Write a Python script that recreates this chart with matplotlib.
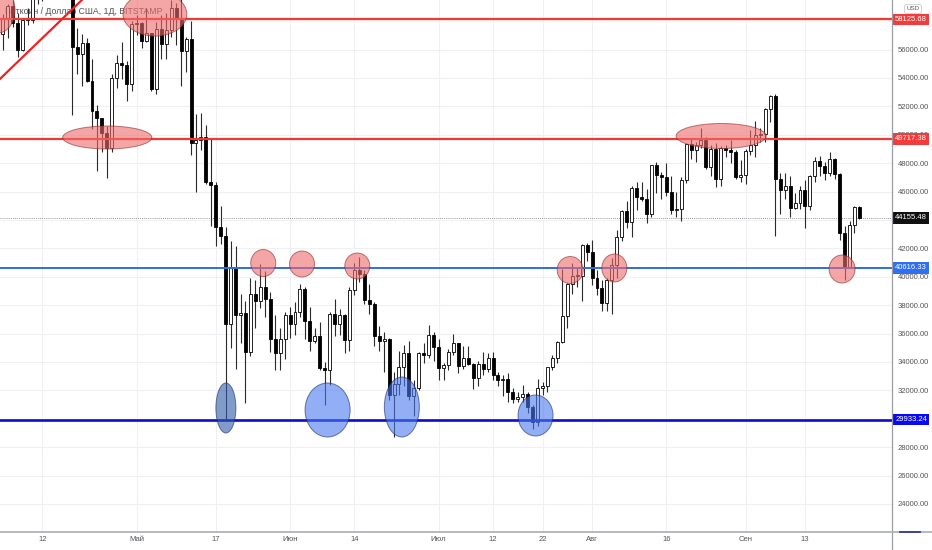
import matplotlib
matplotlib.use("Agg")
import matplotlib.pyplot as plt
import matplotlib.dates as mdates
from matplotlib.patches import Ellipse
from matplotlib.lines import Line2D
from matplotlib.transforms import blended_transform_factory
import numpy as np
import pandas as pd

plt.rcParams['font.family'] = ['Liberation Sans', 'DejaVu Sans']

# ---------------- data: BTC/USD daily candles, 2021-04-04 .. 2021-09-24 ----------------
start_date = "2021-04-04"

opens = [
    # April 4-30
    57100, 58200, 59100, 57900, 56000, 58100, 58100, 59800, 59900, 59800, 63500, 62900, 63200, 61400,
    60000, 56200, 55700, 56450, 53800, 51700, 51150, 50100, 49100, 54000, 55050, 54900, 53600,
    # May
    57800, 57850, 56600, 57200, 53200, 57450, 56400, 57350, 58950, 58250, 55900, 56750, 49400, 49650,
    49850, 46700, 46450, 43500, 42900, 36700, 40600, 37300, 37450, 34700, 38800, 38300, 39250, 38450,
    35650, 34600, 35650,
    # June
    37300, 36700, 37550, 39150, 36850, 35500, 35800, 33600, 33400, 37400, 36700, 37300, 35550, 39100,
    40450, 40200, 38350, 38100, 35800, 35500, 35600, 31700, 32450, 33650, 34650, 31600, 32200, 34650,
    34500, 35900,
    # July
    35050, 33550, 33800, 34700, 35300, 33700, 34250, 33850, 32850, 33850, 33500, 34280, 33100, 32750,
    32800, 31850, 31400, 31500, 31750, 30800, 29800, 32150, 32300, 33650, 34300, 35400, 37260, 39480,
    40050, 40080, 42230,
    # August
    41760, 39890, 39190, 38170, 39770, 40850, 42820, 44620, 43850, 46280, 45600, 45450, 44450, 47850,
    47150, 47050, 45950, 44700, 44800, 46800, 49350, 48900, 49280, 49600, 47700, 49000, 46850, 49050,
    48950, 48800, 47000,
    # September 1-24
    47150, 48850, 49280, 49950, 50050, 51790, 52700, 46860, 46100, 46400, 44870, 45200, 46100, 44950,
    47100, 48150, 47800, 47330, 48270, 47250, 43050, 40710, 43640, 44900,
]

highs = [
    58500, 59200, 59500, 58600, 58200, 58900, 61200, 60700, 61200, 63800, 64900, 63800, 63500, 62500,
    61000, 57500, 57100, 56800, 55300, 52100, 51200, 50600, 54300, 55600, 56500, 55200, 58000,
    58400, 57950, 58950, 57200, 57950, 58400, 58600, 59500, 59300, 59600, 56900, 58000, 51450, 51500,
    50700, 49800, 46650, 45000, 43500, 42500, 42200, 38800, 38300, 39900, 39800, 40900, 40400, 38900,
    37300, 36400, 37500,
    37900, 38200, 39500, 39250, 37900, 36400, 36800, 34000, 37500, 38400, 37700, 37400, 39300, 41000,
    41400, 40500, 39500, 38200, 36500, 36100, 35700, 33300, 34800, 35200, 35500, 32700, 34700, 35300,
    36600, 36100,
    35600, 33900, 34900, 35950, 35300, 35100, 35100, 33900, 34100, 34700, 34600, 34700, 33300, 33100,
    33200, 32200, 31900, 32400, 31900, 31000, 32800, 32600, 33600, 34500, 35450, 40550, 39550, 40950,
    40600, 42300, 42400,
    42600, 40500, 39800, 39900, 41300, 43300, 44700, 45300, 46400, 46700, 46700, 46200, 47900, 48100,
    47400, 48000, 47100, 46000, 47000, 49400, 49800, 49500, 50500, 49850, 49300, 49400, 49200, 49300,
    49600, 48900, 48200,
    49000, 50300, 51000, 50500, 51900, 52800, 52900, 47300, 47300, 47100, 45900, 46400, 46800, 47200,
    48400, 48500, 48100, 48800, 48350, 47300, 43600, 43900, 44950, 45000,
]

lows = [
    56000, 56800, 57600, 55500, 55900, 57700, 57900, 59200, 59400, 59800, 61300, 62100, 60000, 59600,
    51400, 54300, 53400, 53700, 50400, 47450, 48800, 46950, 48800, 53300, 53900, 52400, 53100,
    57000, 56100, 56500, 53100, 52900, 55300, 55300, 56900, 56300, 53400, 54400, 48600, 46000, 48900,
    46550, 43600, 42200, 42300, 30000, 35000, 33500, 35300, 31100, 34400, 36400, 37800, 37200, 34700,
    33400, 33400, 34200,
    35700, 35900, 37200, 35600, 34800, 35300, 33400, 31000, 32400, 35800, 35900, 34600, 34800, 38700,
    39600, 38100, 37400, 35100, 34800, 33300, 31300, 28700, 31700, 32300, 31300, 30200, 32000, 33900,
    34300, 34100,
    32700, 32700, 33400, 34500, 33200, 33500, 33800, 32100, 32300, 33100, 33300, 32700, 32300, 31600,
    31200, 31100, 31200, 31200, 30400, 29300, 29500, 31700, 31900, 33400, 33900, 35300, 36400, 38800,
    39300, 38300, 41100,
    39400, 38700, 37600, 37600, 37400, 39900, 42500, 43400, 42800, 44700, 45350, 43800, 44200, 45900,
    45500, 45700, 44400, 44200, 43900, 46600, 48300, 48100, 49100, 47600, 47100, 46300, 46400, 48400,
    48000, 46900, 46700,
    46500, 48600, 48400, 49500, 49500, 50900, 42900, 44400, 45500, 44200, 44800, 44800, 43400, 44700,
    46700, 47100, 46800, 47100, 46900, 42600, 39800, 40600, 43100, 44100,
]

closes = [
    58200, 59100, 57900, 56000, 58100, 58100, 59800, 59900, 59800, 63500, 62900, 63200, 61400, 60000,
    56200, 55700, 56450, 53800, 51700, 51150, 50100, 49100, 54000, 55050, 54900, 53600, 57800,
    57850, 56600, 57200, 53200, 57450, 56400, 57350, 58950, 58250, 55900, 56750, 49400, 49650, 49850,
    46700, 46450, 43500, 42900, 36700, 40600, 37300, 37450, 34700, 38800, 38300, 39250, 38450, 35650,
    34600, 35650, 37300,
    36700, 37550, 39150, 36850, 35500, 35800, 33600, 33400, 37400, 36700, 37300, 35550, 39100, 40450,
    40200, 38350, 38100, 35800, 35500, 35600, 31700, 32450, 33650, 34650, 31600, 32200, 34650, 34500,
    35900, 35050,
    33550, 33800, 34700, 35300, 33700, 34250, 33850, 32850, 33850, 33500, 34280, 33100, 32750, 32800,
    31850, 31400, 31500, 31750, 30800, 29800, 32150, 32300, 33650, 34300, 35400, 37260, 39480, 40050,
    40080, 42230, 41760,
    39890, 39190, 38170, 39770, 40850, 42820, 44620, 43850, 46280, 45600, 45450, 44450, 47850, 47150,
    47050, 45950, 44700, 44800, 46800, 49350, 48900, 49280, 49600, 47700, 49000, 46850, 49050, 48950,
    48800, 47000, 47150,
    48850, 49280, 49950, 50050, 51790, 52700, 46860, 46100, 46400, 44870, 45200, 46100, 44950, 47100,
    48150, 47800, 47330, 48270, 47250, 43050, 40710, 43640, 44900, 44155.48,
]

# horizontal levels and price labels
level_values = [58125.68, 49717.38, 40616.33, 29933.24]
level_colors = ['#ee3b32', '#ee3b32', '#2f6ee6', '#0c0cd0']
level_widths = [1.6, 1.6, 1.4, 1.9]
level_label_colors = ['#f23c3c', '#f23c3c', '#2f6ff2', '#0a0af2']
last_price = 44155.48

# y axis ticks (labels hidden behind price labels are left blank)
price_ticks = list(range(24000, 58001, 2000))
hidden_price_ticks = [58000, 44000, 30000]

# x axis ticks
date_tick_dates = ['2021-04-12', '2021-05-01', '2021-05-17', '2021-06-01', '2021-06-14', '2021-07-01',
                   '2021-07-12', '2021-07-22', '2021-08-01', '2021-08-16', '2021-09-01', '2021-09-13']
date_tick_labels = ['12', 'Май', '17', 'Июн', '14', 'Июл', '12', '22', 'Авг', '16', 'Сен', '13']

# drawn annotations (date centre, price centre, width in days, height in price)
red_mark_dates = ['2021-04-03 00:00', '2021-05-04 17:00', '2021-04-25 02:00', '2021-08-27 02:00',
                  '2021-05-26 14:00', '2021-06-03 10:00', '2021-06-14 14:00', '2021-07-27 14:00',
                  '2021-08-05 12:00', '2021-09-20 12:00']
red_mark_prices = [58785, 58500, 49806, 49912, 40968, 40898, 40757, 40475, 40616, 40546]
red_mark_widths = [6.9, 12.9, 18.0, 18.2, 5.05, 5.05, 5.05, 5.25, 5.05, 5.25]
red_mark_heights = [3240, 3100, 1620, 1760, 1900, 1830, 1830, 1900, 1970, 1970]

blue_mark_dates = ['2021-05-19 01:00', '2021-06-08 14:00', '2021-06-23 14:00', '2021-07-20 14:00']
blue_mark_prices = [30757, 30616, 30827, 30229]
blue_mark_widths = [4.04, 9.1, 7.07, 7.07]
blue_mark_heights = [3521, 3803, 4225, 2887]
blue_mark_colors = ['#2f5aa8', '#4a78ee', '#4a78ee', '#4a78ee']

trend_dates = ['2021-04-02', '2021-04-24']
trend_prices = [53456, 60850]

# ---------------- figure ----------------
W, H = 932, 550
fig = plt.figure(figsize=(W / 100, H / 100), dpi=100)
fig.patch.set_facecolor('white')
ax = fig.add_axes([0, 18 / H, 892 / W, 532 / H])
ax.set_axisbelow(True)

dates = pd.date_range(start_date, periods=len(closes), freq='D')
x = mdates.date2num(dates)
o = np.array(opens, float)
h = np.array(highs, float)
l = np.array(lows, float)
c = np.array(closes, float)
up = c >= o

ax.vlines(x, l, h, color='#2a2a2a', lw=0.8, zorder=2)
body_bottom = np.minimum(o, c)
body_height = np.maximum(np.abs(c - o), 70)
ax.bar(x, body_height, bottom=body_bottom, width=0.6,
       color=np.where(up, 'white', 'black'), edgecolor='black', linewidth=0.6, zorder=3)

# levels
for v, col, lw in zip(level_values, level_colors, level_widths):
    ax.axhline(v, color=col, lw=lw, zorder=4)
ax.axhline(last_price, color='#777777', lw=0.6, ls=(0, (1, 1.5)), zorder=1.5)

# trend line
ax.plot(mdates.date2num(pd.to_datetime(trend_dates)), trend_prices, color='#ee2222', lw=1.6, zorder=4)

# ellipses
for d, p, w, hh in zip(red_mark_dates, red_mark_prices, red_mark_widths, red_mark_heights):
    e = Ellipse((mdates.date2num(pd.Timestamp(d)), p), w, hh, facecolor='#ee6a6a', alpha=0.6,
                edgecolor='#8a2a2a', lw=0.7, zorder=5)
    ax.add_patch(e)
for d, p, w, hh, col in zip(blue_mark_dates, blue_mark_prices, blue_mark_widths, blue_mark_heights,
                            blue_mark_colors):
    e = Ellipse((mdates.date2num(pd.Timestamp(d)), p), w, hh, facecolor=col, alpha=0.6,
                edgecolor='#1a2a6a', lw=0.7, zorder=5)
    ax.add_patch(e)

# limits
ax.set_xlim(mdates.date2num(pd.Timestamp('2021-04-03 10:00')),
            mdates.date2num(pd.Timestamp('2021-09-30 14:00')))
ax.set_ylim(22024, 59490)

# grid & ticks
ax.yaxis.tick_right()
ax.set_yticks(price_ticks)
ax.set_yticklabels(['' if v in hidden_price_ticks else f'{v:.2f}' for v in price_ticks])
ax.set_xticks(mdates.date2num(pd.to_datetime(date_tick_dates)))
ax.set_xticklabels(date_tick_labels)
ax.tick_params(axis='y', length=0, pad=4, labelsize=5.5, labelcolor='#555555')
ax.tick_params(axis='x', length=0, pad=3, labelsize=5.5, labelcolor='#555555')
ax.grid(True, color='#eef0f4', lw=0.8)
for s in ax.spines.values():
    s.set_visible(False)

# title
ax.text(5 / 892, 1 - 11 / 532, 'Биткоин / Доллар США, 1Д, BITSTAMP', transform=ax.transAxes,
        fontsize=6.3, color='#555555', va='center', ha='left', zorder=1)

# price labels on axis
tr = blended_transform_factory(ax.transAxes, ax.transData)
for v, col in zip(level_values, level_label_colors):
    ax.text(1.0035, v, f'{v:.2f}', transform=tr, fontsize=5.5, color='white', ha='left', va='center',
            clip_on=False, zorder=10,
            bbox=dict(boxstyle='square,pad=0.3', fc=col, ec='none'))
ax.text(1.0035, last_price, f'{last_price:.2f}', transform=tr, fontsize=5.5, color='white', ha='left',
        va='center', clip_on=False, zorder=10, bbox=dict(boxstyle='square,pad=0.3', fc='#111111', ec='none'))

# axis lines
fig.add_artist(Line2D([892 / W, 892 / W], [0, 1], color='#9a9da5', lw=0.9))
fig.add_artist(Line2D([0, 1], [18 / H, 18 / H], color='#b0b3b8', lw=1.3))
fig.add_artist(Line2D([900 / W, 920 / W], [18 / H, 18 / H], color='#3a3a8a', lw=1.3))

# USD box
fig.text(913 / W, 1 - 9 / H, 'USD', fontsize=4.5, color='#555555', ha='center', va='center',
         bbox=dict(boxstyle='round,pad=0.3', fc='white', ec='#c8cad0', lw=0.6))

fig.savefig('out.png', dpi=100, facecolor='white')
